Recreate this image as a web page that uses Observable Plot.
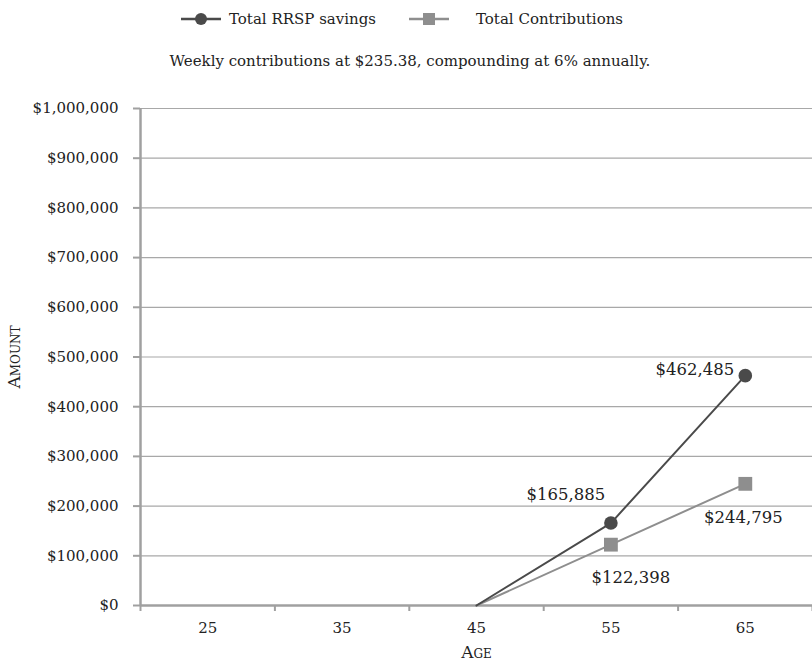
<!DOCTYPE html>
<html>
<head>
<meta charset="utf-8">
<script src="https://cdn.jsdelivr.net/npm/d3@7"></script>
<script src="https://cdn.jsdelivr.net/npm/@observablehq/plot@0.6"></script>
<style>
  html, body { margin: 0; padding: 0; background: #fff; }
  body { width: 812px; height: 663px; position: relative; font-family: "DejaVu Serif", serif; color: #222; }
  #legend { position: relative; height: 38px; font-size: 15px; }
  .item { position: absolute; top: 0; height: 38px; display: flex; align-items: center; }
  .item svg { margin-right: 8px; }
  #subtitle { height: 46px; line-height: 46px; text-align: center; font-size: 15px; padding-left: 8px; }
  #chart svg { display: block; }
  [aria-label="y-axis label"] text, [aria-label="x-axis label"] text { font-variant: small-caps; font-size: 17px; }
</style>
</head>
<body>
<div id="legend"></div>
<div id="subtitle">Weekly contributions at $235.38, compounding at 6% annually.</div>
<div id="chart"></div>
<script>
const ages = [25, 35, 45, 55, 65];
const ageBoundaries = [20, 30, 40, 50, 60, 70];
const rrspSavings = [null, null, 0, 165885, 462485];
const totalContributions = [null, null, 0, 122398, 244795];
const seriesNames = ["Total RRSP savings", "Total Contributions"];
const yTicks = [0, 100000, 200000, 300000, 400000, 500000, 600000, 700000, 800000, 900000, 1000000];

const darkColor = "#4a4a4a";
const grayColor = "#8e8e8e";

// legend
const legend = document.getElementById("legend");
const legendItems = [
  {name: seriesNames[0], color: darkColor, sym: "circle", left: 181},
  {name: seriesNames[1], color: grayColor, sym: "square", left: 409}
];
legendItems.forEach((it, i) => {
  const div = document.createElement("div");
  div.className = "item";
  div.style.left = it.left + "px";
  const marker = it.sym === "circle"
    ? `<circle cx="20" cy="10" r="6" fill="${it.color}"/>`
    : `<rect x="14" y="4" width="12" height="12" fill="${it.color}"/>`;
  div.innerHTML = `<svg width="40" height="20"><line x1="0" x2="40" y1="10" y2="10" stroke="${it.color}" stroke-width="2.5"/>${marker}</svg><span style="margin-left:${i ? 19 : 0}px">${it.name}</span>`;
  legend.appendChild(div);
});

const rrsp = ages.map((a, i) => ({age: a, value: rrspSavings[i]})).filter(d => d.value != null);
const contrib = ages.map((a, i) => ({age: a, value: totalContributions[i]})).filter(d => d.value != null);
const fmt = d3.format("$,");

const chart = Plot.plot({
  width: 812,
  height: 579,
  marginLeft: 140,
  marginRight: 0,
  marginTop: 24,
  marginBottom: 58,
  style: {fontFamily: "DejaVu Serif, serif", fontSize: "15px", color: "#222", background: "#fff"},
  x: {domain: [20, 70]},
  y: {domain: [0, 1000000]},
  marks: [
    Plot.gridY(yTicks.slice(1), {stroke: "#a8a8a8", strokeOpacity: 1, strokeWidth: 1.2}),
    Plot.axisY(yTicks, {tickFormat: fmt, tickSize: 7, tickPadding: 15, stroke: "#a0a0a0", strokeWidth: 2,
      label: "Amount", labelAnchor: "center", labelArrow: "none", labelOffset: 133, fontSize: 15}),
    Plot.axisX(ageBoundaries, {tickSize: 6, tickFormat: () => "", stroke: "#a0a0a0", strokeWidth: 2, label: null}),
    Plot.axisX(ages, {tickSize: 0, tickPadding: 17, tickFormat: d => String(d), fontSize: 15,
      label: "Age", labelAnchor: "center", labelArrow: "none", labelOffset: 52}),
    Plot.ruleX([20], {stroke: "#a0a0a0", strokeWidth: 2.5}),
    Plot.ruleY([0], {stroke: "#a0a0a0", strokeWidth: 2.5}),
    Plot.line(contrib, {x: "age", y: "value", stroke: grayColor, strokeWidth: 2}),
    Plot.line(rrsp, {x: "age", y: "value", stroke: darkColor, strokeWidth: 2}),
    Plot.dot(contrib.filter(d => d.value > 0), {x: "age", y: "value", symbol: "square", r: 7.8, fill: grayColor, stroke: "none"}),
    Plot.dot(rrsp.filter(d => d.value > 0), {x: "age", y: "value", symbol: "circle", r: 6.8, fill: darkColor, stroke: "none"}),
    Plot.text(rrsp.filter(d => d.age === 55), {x: "age", y: "value", text: d => fmt(d.value), dx: -45, dy: -28, fontSize: 16.5, fill: "#222"}),
    Plot.text(rrsp.filter(d => d.age === 65), {x: "age", y: "value", text: d => fmt(d.value), dx: -11, dy: -6, textAnchor: "end", fontSize: 16.5, fill: "#222"}),
    Plot.text(contrib.filter(d => d.age === 55), {x: "age", y: "value", text: d => fmt(d.value), dx: 20, dy: 33, fontSize: 16.5, fill: "#222"}),
    Plot.text(contrib.filter(d => d.age === 65), {x: "age", y: "value", text: d => fmt(d.value), dx: -2, dy: 34, fontSize: 16.5, fill: "#222"})
  ]
});
document.getElementById("chart").appendChild(chart);
</script>
</body>
</html>
